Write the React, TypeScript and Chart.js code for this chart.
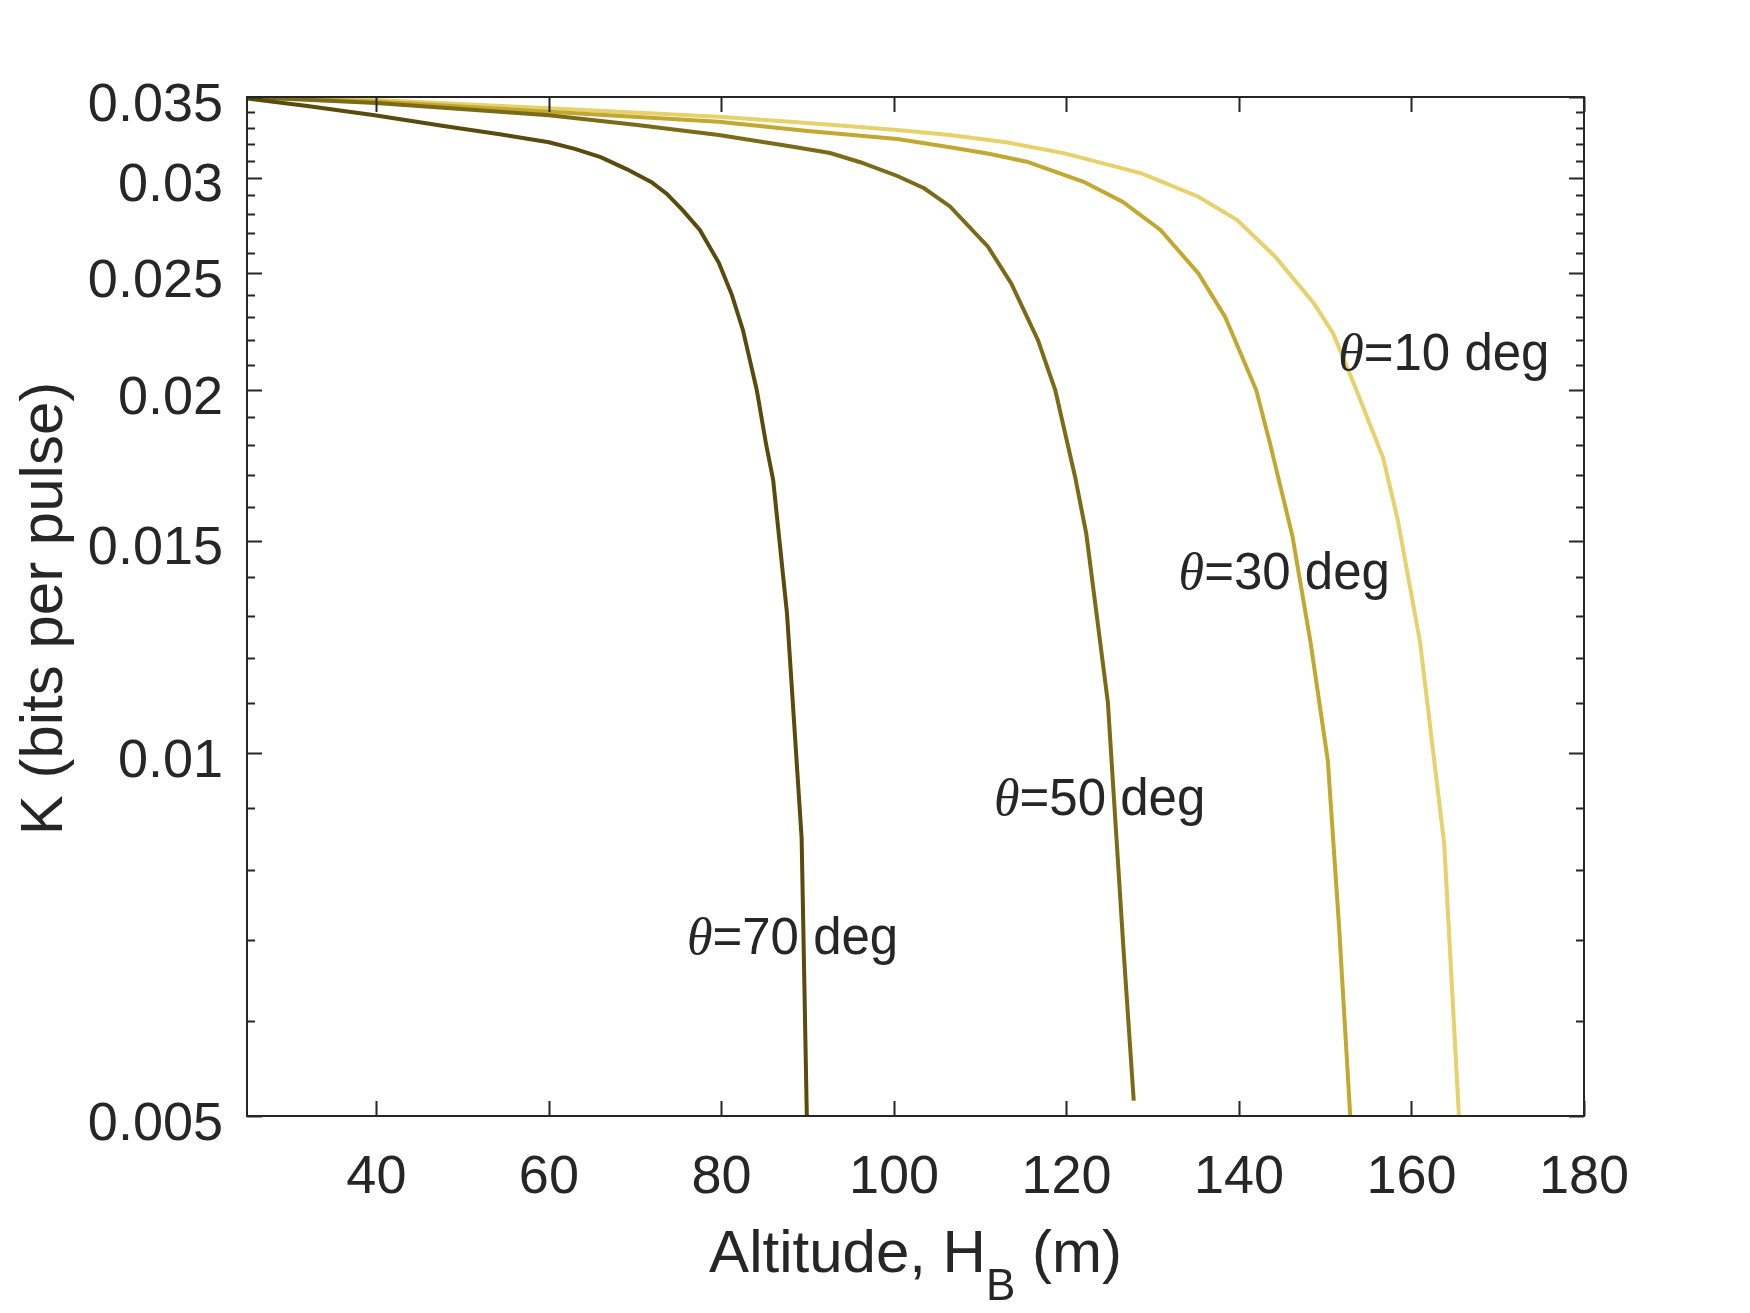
import React, { useEffect, useRef } from "react";
import { Chart, registerables } from "chart.js";

Chart.register(...registerables);

// ---- data ----
const alt70 = [25, 32, 39.8, 48, 54.3, 60, 63, 66, 69, 71.9, 73.65, 75.5, 77.5, 79.7, 81.2, 82.5, 84.1, 85.2, 86.0, 87.6, 89.3, 89.9];
const k70 = [0.0349, 0.0344, 0.0338, 0.0331, 0.0326, 0.0321, 0.0317, 0.0312, 0.0305, 0.02975, 0.0291, 0.0282, 0.02715, 0.0255, 0.024, 0.02242, 0.02, 0.018, 0.01684, 0.01306, 0.0085, 0.005];

const alt50 = [25, 40, 60, 70, 79.7, 88.3, 92.6, 96.1, 100.4, 103.5, 106.5, 110.9, 113.6, 116.7, 118.7, 121.0, 122.3, 124.8, 126.6, 127.8];
const k50 = [0.035, 0.0346, 0.0338, 0.0332, 0.03255, 0.03183, 0.03145, 0.0309, 0.0301, 0.0294, 0.0284, 0.0263, 0.02452, 0.022, 0.02, 0.01695, 0.0152, 0.01102, 0.0069, 0.00515];

const alt30 = [25, 40, 60, 79.7, 90, 100.4, 106.5, 111, 115.4, 122.0, 126.5, 130.9, 135.3, 138.4, 142.0, 143.6, 145.1, 146.2, 148.3, 150.3, 151.6, 152.9];
const k30 = [0.035, 0.0347, 0.03403, 0.03339, 0.0328, 0.0323, 0.0318, 0.0314, 0.03093, 0.02977, 0.02866, 0.02715, 0.02499, 0.023, 0.02, 0.01806, 0.01631, 0.01513, 0.01235, 0.00986, 0.00719, 0.005];

const alt10 = [25, 40, 60, 79.7, 90, 100.4, 106.5, 113, 119.8, 128.7, 135.3, 139.8, 144.2, 148.7, 150.9, 153.5, 156.7, 158.4, 161.0, 163.8, 165.5];
const k10 = [0.035, 0.0348, 0.03426, 0.0337, 0.0333, 0.03286, 0.03255, 0.0321, 0.03143, 0.03025, 0.02893, 0.02767, 0.0258, 0.0236, 0.02229, 0.0201, 0.01758, 0.01562, 0.01235, 0.0084, 0.005];

const seriesNames = ["=70 deg", "=50 deg", "=30 deg", "=10 deg"];
const seriesColors = ["#584b0c", "#7b6a16", "#c2a82f", "#e6d16b"];

// label anchors (data units: altitude, K at text baseline)
const labelAlt = [76.0, 111.6, 133.0, 151.5];
const labelK = [0.00681, 0.00888, 0.01367, 0.02078];

const xTicks = [40, 60, 80, 100, 120, 140, 160, 180];
const xTickLabels = ["40", "60", "80", "100", "120", "140", "160", "180"];
const yMajor = [0.005, 0.01, 0.015, 0.02, 0.025, 0.03, 0.035];
const yMajorLabels = ["0.005", "0.01", "0.015", "0.02", "0.025", "0.03", "0.035"];
const yMinor = [
  0.006, 0.007, 0.008, 0.009, 0.011, 0.012, 0.013, 0.014, 0.016, 0.017, 0.018, 0.019,
  0.021, 0.022, 0.023, 0.024, 0.026, 0.027, 0.028, 0.029, 0.031, 0.032, 0.033, 0.034,
];

const SANS = "'Liberation Sans', Arial, Helvetica, sans-serif";
const SERIF = "'Liberation Serif', 'Times New Roman', serif";
const AXIS_COLOR = "#262626";

const toPoints = (xs: number[], ys: number[]) => xs.map((x, i) => ({ x, y: ys[i] }));

const decorPlugin = {
  id: "decor",
  afterDraw(chart: any) {
    const ctx: CanvasRenderingContext2D = chart.ctx;
    const a = chart.chartArea;
    const xs = chart.scales.x;
    const ys = chart.scales.y;
    ctx.save();
    ctx.strokeStyle = AXIS_COLOR;
    ctx.fillStyle = AXIS_COLOR;
    ctx.lineWidth = 2;
    // box
    ctx.strokeRect(a.left, a.top, a.right - a.left, a.bottom - a.top);
    // x ticks
    ctx.beginPath();
    xTicks.forEach((v) => {
      const px = Math.round(xs.getPixelForValue(v)) + 0.5;
      ctx.moveTo(px, a.bottom);
      ctx.lineTo(px, a.bottom - 15);
      ctx.moveTo(px, a.top);
      ctx.lineTo(px, a.top + 15);
    });
    // y major ticks
    yMajor.forEach((v) => {
      const py = Math.round(ys.getPixelForValue(v)) + 0.5;
      ctx.moveTo(a.left, py);
      ctx.lineTo(a.left + 15, py);
      ctx.moveTo(a.right, py);
      ctx.lineTo(a.right - 15, py);
    });
    yMinor.forEach((v) => {
      const py = Math.round(ys.getPixelForValue(v)) + 0.5;
      ctx.moveTo(a.left, py);
      ctx.lineTo(a.left + 8, py);
      ctx.moveTo(a.right, py);
      ctx.lineTo(a.right - 8, py);
    });
    ctx.stroke();

    // tick labels
    ctx.font = `54px ${SANS}`;
    ctx.textBaseline = "alphabetic";
    ctx.textAlign = "center";
    xTicks.forEach((v, i) => {
      ctx.fillText(xTickLabels[i], xs.getPixelForValue(v), a.bottom + 77);
    });
    ctx.textAlign = "right";
    yMajor.forEach((v, i) => {
      ctx.fillText(yMajorLabels[i], a.left - 24, ys.getPixelForValue(v) + 23.5);
    });

    // x title with subscript
    const big = `60px ${SANS}`;
    const small = `44px ${SANS}`;
    const p1 = "Altitude, H";
    const p2 = "B";
    const p3 = " (m)";
    ctx.font = big;
    const w1 = ctx.measureText(p1).width;
    const w3 = ctx.measureText(p3).width;
    ctx.font = small;
    const w2 = ctx.measureText(p2).width;
    const total = w1 + w2 + w3;
    const cx = (a.left + a.right) / 2;
    let sx = cx - total / 2;
    const baseY = a.bottom + 156;
    ctx.textAlign = "left";
    ctx.font = big;
    ctx.fillText(p1, sx, baseY);
    sx += w1;
    ctx.font = small;
    ctx.fillText(p2, sx, baseY + 28);
    sx += w2;
    ctx.font = big;
    ctx.fillText(p3, sx, baseY);

    // y title
    ctx.save();
    ctx.translate(62, (a.top + a.bottom) / 2 + 2);
    ctx.rotate(-Math.PI / 2);
    ctx.textAlign = "center";
    ctx.font = big;
    ctx.fillText("K (bits per pulse)", 0, 0);
    ctx.restore();

    // curve labels
    ctx.textAlign = "left";
    seriesNames.forEach((name, i) => {
      const px = xs.getPixelForValue(labelAlt[i]);
      const py = ys.getPixelForValue(labelK[i]);
      ctx.font = `italic 52px ${SERIF}`;
      ctx.fillText("\u03b8", px, py);
      const tw = ctx.measureText("\u03b8").width;
      ctx.font = `51px ${SANS}`;
      ctx.fillText(name, px + tw, py);
    });
    ctx.restore();
  },
};

export default function App() {
  const ref = useRef<HTMLCanvasElement | null>(null);
  useEffect(() => {
    document.body.style.margin = "0";
    const canvas = ref.current;
    if (!canvas) return;
    const allX = [alt70, alt50, alt30, alt10];
    const allY = [k70, k50, k30, k10];
    const chart = new Chart(canvas, {
      type: "line",
      data: {
        datasets: allX.map((xsArr, i) => ({
          label: "\u03b8" + seriesNames[i],
          data: toPoints(xsArr, allY[i]),
          borderColor: seriesColors[i],
          backgroundColor: seriesColors[i],
          borderWidth: 4,
          pointRadius: 0,
          tension: 0,
          fill: false,
        })),
      },
      options: {
        animation: false,
        responsive: false,
        maintainAspectRatio: false,
        events: [],
        layout: { padding: { left: 247, top: 97, right: 166, bottom: 197 } },
        scales: {
          x: { type: "linear", min: 25, max: 180, display: false },
          y: { type: "logarithmic", min: 0.005, max: 0.035, display: false },
        },
        plugins: { legend: { display: false }, tooltip: { enabled: false } },
      },
      plugins: [decorPlugin],
    } as any);
    return () => chart.destroy();
  }, []);
  return (
    <div style={{ width: 1750, height: 1313, background: "#fff" }}>
      <canvas ref={ref} width={1750} height={1313} style={{ display: "block" }} />
    </div>
  );
}
